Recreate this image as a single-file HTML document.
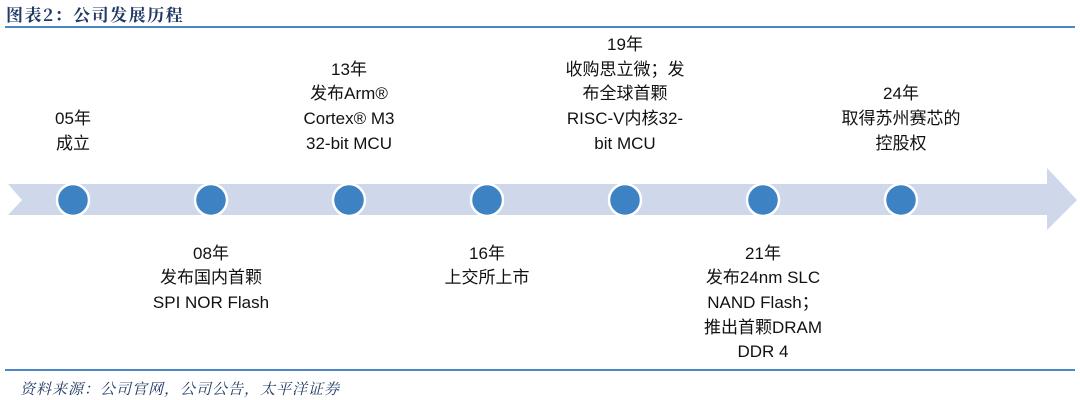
<!DOCTYPE html>
<html><head><meta charset="utf-8"><style>
body{margin:0;width:1080px;height:400px;background:#fff;position:relative;overflow:hidden;font-family:"Liberation Sans","Noto Sans CJK SC",sans-serif;}
.t{position:absolute;width:170px;text-align:center;font-size:17px;line-height:24.7px;color:#111;}
.top{bottom:243.6px}
.bot{top:241.6px}
</style></head><body>
<div style="position:absolute;left:6px;top:1px;font-family:'Noto Serif CJK SC',serif;font-size:17px;color:#1f3864;letter-spacing:1.5px;font-weight:bold;">图表2：公司发展历程</div>
<div style="position:absolute;left:5px;top:26px;width:1070px;height:2px;background:#4a86c5"></div>
<svg style="position:absolute;left:0;top:0" width="1080" height="400">
<polygon points="8,184 1047,184 1047,168 1077,200 1047,230 1047,215 8,215 22,200" fill="#cfd8ea"/>
<g fill="#3d82c2" stroke="#fff" stroke-width="2.5">
<circle cx="73" cy="200" r="16"/><circle cx="211" cy="200" r="16"/><circle cx="349" cy="200" r="16"/><circle cx="487" cy="200" r="16"/><circle cx="625" cy="200" r="16"/><circle cx="763" cy="200" r="16"/><circle cx="901" cy="200" r="16"/>
</g></svg>
<div class="t top" style="left:-12px">05年<br>成立</div>
<div class="t top" style="left:264px">13年<br>发布Arm®<br>Cortex® M3<br>32-bit MCU</div>
<div class="t top" style="left:540px">19年<br>收购思立微；发<br>布全球首颗<br>RISC-V内核32-<br>bit MCU</div>
<div class="t top" style="left:816px">24年<br>取得苏州赛芯的<br>控股权</div>
<div class="t bot" style="left:126px">08年<br>发布国内首颗<br>SPI NOR Flash</div>
<div class="t bot" style="left:402px">16年<br>上交所上市</div>
<div class="t bot" style="left:678px">21年<br>发布24nm SLC<br>NAND Flash；<br>推出首颗DRAM<br>DDR 4</div>
<div style="position:absolute;left:5px;top:369px;width:1070px;height:2px;background:#4a86c5"></div>
<div style="position:absolute;left:20px;top:378px;font-family:'Noto Serif CJK SC',serif;font-style:italic;font-size:15px;color:#1f3864;letter-spacing:1px;">资料来源：公司官网，公司公告，太平洋证券</div>
</body></html>
